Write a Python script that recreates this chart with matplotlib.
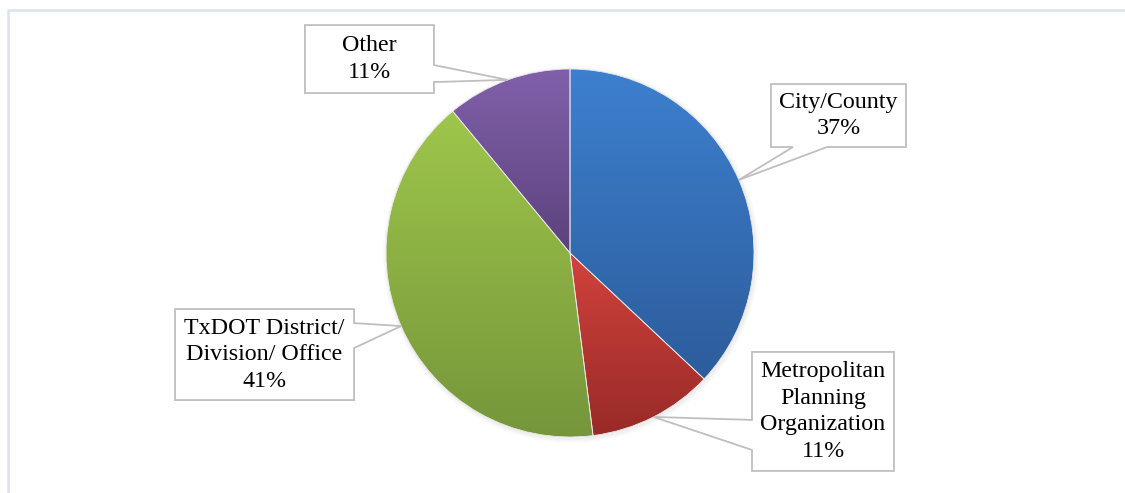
import numpy as np
import matplotlib.pyplot as plt
from matplotlib.patches import Polygon
from matplotlib.lines import Line2D
from matplotlib.colors import LinearSegmentedColormap

# data
labels = ['City/County', 'Metropolitan\nPlanning\nOrganization',
          'TxDOT District/\nDivision/ Office', 'Other']
values = [37, 11, 41, 11]
top_colors = ['#3d80cf', '#d2423d', '#9ec64b', '#8160aa']
bot_colors = ['#2d5c9b', '#982a27', '#75953a', '#5c427d']

# callout boxes: center (pie units), size (px), side of tail, tail base fraction
R_PX = 184.0
boxes = [((1.459, 0.747), (135, 63), 'bottom', (22/135, 56/135)),
         ((1.375, -0.861), (142, 119), 'left', (68/119, 98/119)),
         ((-1.660, -0.552), (179, 91), 'right', (14/91, 39/91)),
         ((-1.090, 1.054), (129, 68), 'right', (40/68, 57/68))]

fig = plt.figure(figsize=(11.25, 4.93), dpi=100)
ax = fig.add_axes([0, 0, 1, 1])
wedges, _ = ax.pie(values, startangle=90, counterclock=False,
                   radius=1, center=(0, 0),
                   wedgeprops=dict(linewidth=0.6, edgecolor='#e8e8e8'))

# soft shadow
for k, a in enumerate([0.05, 0.04, 0.03]):
    sh = plt.Circle((0.006, -0.008), 1.0 + 0.008 * (k + 1), color='#808080',
                    alpha=a, zorder=0.5, lw=0)
    ax.add_patch(sh)

for w, c0, c1 in zip(wedges, top_colors, bot_colors):
    w.set_facecolor('none')
    w.set_zorder(2)
    verts = w.get_patch_transform().transform(w.get_path().vertices)
    y0, y1 = verts[:, 1].min(), verts[:, 1].max()
    x0, x1 = verts[:, 0].min(), verts[:, 0].max()
    cmap = LinearSegmentedColormap.from_list('g', [c1, c0])
    grad = np.linspace(0, 1, 256).reshape(-1, 1)
    im = ax.imshow(grad, cmap=cmap, extent=(x0, x1, y0, y1), origin='lower',
                   aspect='auto', zorder=1, interpolation='bilinear')
    im.set_clip_path(w)

# callouts
edge = '#bfbfbf'
for w, lab, v, (ctr, size, side, frac) in zip(wedges, labels, values, boxes):
    mid = np.deg2rad((w.theta1 + w.theta2) / 2)
    tip = (np.cos(mid), np.sin(mid))
    cx, cy = ctr
    bw, bh = size[0] / R_PX, size[1] / R_PX
    L, Rr, B, T = cx - bw / 2, cx + bw / 2, cy - bh / 2, cy + bh / 2
    f0, f1 = frac
    if side == 'bottom':
        pts = [(L, T), (Rr, T), (Rr, B), (L + f1 * bw, B), tip,
               (L + f0 * bw, B), (L, B)]
    elif side == 'left':
        pts = [(L, T), (Rr, T), (Rr, B), (L, B), (L, T - f1 * bh), tip,
               (L, T - f0 * bh)]
    else:
        pts = [(L, T), (Rr, T), (Rr, T - f0 * bh), tip, (Rr, T - f1 * bh),
               (Rr, B), (L, B)]
    ax.add_patch(Polygon(pts, closed=True, facecolor='white', edgecolor=edge,
                         linewidth=1.3, zorder=3, joinstyle='miter'))
    ax.text(cx, cy, f'{lab}\n{v}%', ha='center', va='center',
            family='Liberation Serif', fontsize=17.3, linespacing=1.34,
            color='black', zorder=4)

ax.set_aspect('auto')
ax.set_xlim(-570 / R_PX, (1125 - 570) / R_PX)
ax.set_ylim(-(493 - 253) / R_PX, 253 / R_PX)
ax.axis('off')

# outer frame
fig.add_artist(Line2D([7.5 / 1125, 7.5 / 1125, 1.0],
                      [0.0, 1 - 9.5 / 493, 1 - 9.5 / 493],
                      transform=fig.transFigure, color='#d9e4f2', lw=1.8))

fig.savefig('out.png', dpi=100)
